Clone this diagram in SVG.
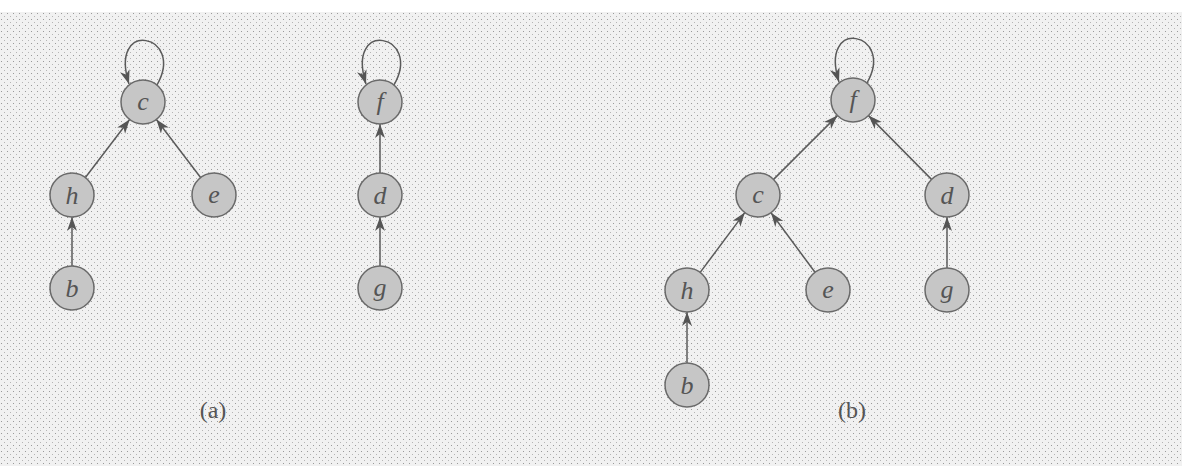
<svg xmlns="http://www.w3.org/2000/svg" width="1182" height="466" viewBox="0 0 1182 466">
<defs>
<marker id="arr" markerUnits="userSpaceOnUse" markerWidth="16" markerHeight="12" refX="14" refY="5" orient="auto">
<path d="M0,0 L14,5 L0,10 L4,5 z" fill="#555"/>
</marker>
<pattern id="stip" width="6" height="6" patternUnits="userSpaceOnUse">
<rect width="6" height="6" fill="#f1f1f1"/>
<rect x="1" y="1" width="1" height="1" fill="#9a9a9a"/>
<rect x="4" y="4" width="1" height="1" fill="#b5b5b5"/>
</pattern>
</defs>
<style>
.n circle{fill:#c6c6c6;stroke:#6a6a6a;stroke-width:1.5}
.n text{font-family:"Liberation Serif",serif;font-style:italic;font-size:26px;fill:#555;text-anchor:middle}
.e{stroke:#5a5a5a;stroke-width:1.5;fill:none;marker-end:url(#arr)}
.lbl{font-family:"Liberation Serif",serif;font-size:24px;fill:#555;text-anchor:middle}
</style>
<rect x="0" y="0" width="1182" height="466" fill="#fff"/>
<rect x="0" y="12" width="1182" height="454" fill="url(#stip)"/>
<g id="connectors">
<path class="e" d="M85.4,177.5 L129.6,119.5"/>
<path class="e" d="M200.6,177.5 L156.4,119.5"/>
<path class="e" d="M72,266 L72,217"/>
<path class="e" d="M157,85 C186,34 108,18 129,84"/>
<path class="e" d="M380,173 L380,124"/>
<path class="e" d="M380,266 L380,217"/>
<path class="e" d="M394,85 C423,34 345,18 366,84"/>
<path class="e" d="M773.6,179.4 L837.4,115.6"/>
<path class="e" d="M931.5,179.4 L868.5,115.6"/>
<path class="e" d="M700.2,272.4 L744.8,212.6"/>
<path class="e" d="M815,272.3 L771,212.7"/>
<path class="e" d="M687,363 L687,312"/>
<path class="e" d="M947,268 L947,217"/>
<path class="e" d="M867,83 C896,32 818,16 839,82"/>
</g>
<g id="a-c" class="n"><circle cx="143" cy="102" r="22"/><text x="143" y="110">c</text></g>
<g id="a-h" class="n"><circle cx="72" cy="195" r="22"/><text x="72" y="204">h</text></g>
<g id="a-e" class="n"><circle cx="214" cy="195" r="22"/><text x="214" y="203">e</text></g>
<g id="a-b" class="n"><circle cx="72" cy="288" r="22"/><text x="72" y="297">b</text></g>
<g id="a-f" class="n"><circle cx="380" cy="102" r="22"/><text x="380" y="110">f</text></g>
<g id="a-d" class="n"><circle cx="380" cy="195" r="22"/><text x="380" y="204">d</text></g>
<g id="a-g" class="n"><circle cx="380" cy="288" r="22"/><text x="380" y="296">g</text></g>
<g id="b-f" class="n"><circle cx="853" cy="100" r="22"/><text x="853" y="108">f</text></g>
<g id="b-c" class="n"><circle cx="758" cy="195" r="22"/><text x="758" y="203">c</text></g>
<g id="b-d" class="n"><circle cx="947" cy="195" r="22"/><text x="947" y="204">d</text></g>
<g id="b-h" class="n"><circle cx="687" cy="290" r="22"/><text x="687" y="299">h</text></g>
<g id="b-e" class="n"><circle cx="828" cy="290" r="22"/><text x="828" y="298">e</text></g>
<g id="b-g" class="n"><circle cx="947" cy="290" r="22"/><text x="947" y="298">g</text></g>
<g id="b-b" class="n"><circle cx="687" cy="385" r="22"/><text x="687" y="394">b</text></g>
<text class="lbl" x="213" y="418">(a)</text>
<text class="lbl" x="852" y="418">(b)</text>
</svg>
